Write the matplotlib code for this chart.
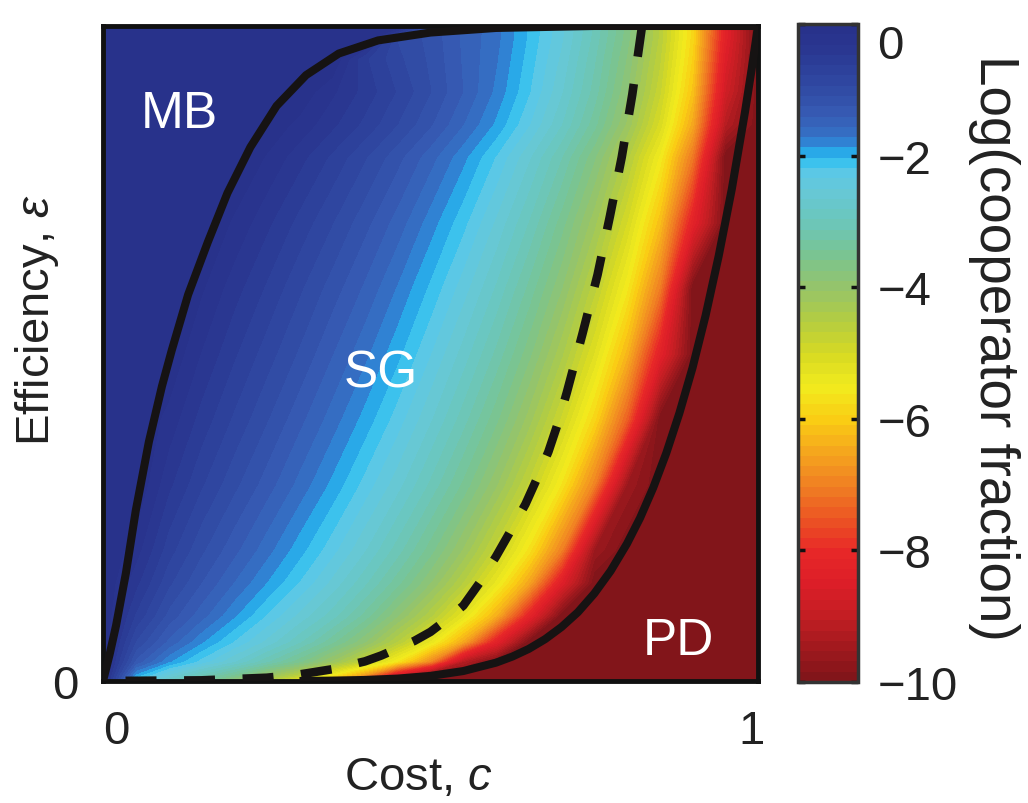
import numpy as np
import matplotlib
matplotlib.use("Agg")
import matplotlib.pyplot as plt
from matplotlib.colors import LinearSegmentedColormap
from matplotlib.transforms import ScaledTranslation

plt.rcParams['font.family'] = ['Liberation Sans', 'DejaVu Sans']
plt.rcParams['mathtext.fontset'] = 'custom'
plt.rcParams['mathtext.rm'] = 'Liberation Sans'
plt.rcParams['mathtext.it'] = 'Liberation Sans:italic'

# ---------------------------------------------------------------------------
# Log10 cooperator fraction on a (cost, efficiency) grid
# ---------------------------------------------------------------------------
cost_grid = [0.00, 0.05, 0.10, 0.15, 0.20, 0.25, 0.30, 0.35, 0.40, 0.45, 0.50,
             0.55, 0.60, 0.65, 0.70, 0.75, 0.80, 0.85, 0.90, 0.95, 1.00]
eff_grid = [0.00, 0.01, 0.03, 0.06, 0.10, 0.15, 0.20, 0.30, 0.40, 0.50,
            0.60, 0.70, 0.80, 0.85, 0.90, 0.95, 0.98, 1.00]

row_e000 = [0, -2.3, -2.9, -3.4, -4.0, -4.6, -5.5, -6.6, -8.6, -10, -10,
            -10, -10, -10, -10, -10, -10, -10, -10, -10, -10]
row_e001 = [0, -1.9, -2.5, -3.0, -3.45, -4.0, -4.6, -5.5, -6.6, -8.6, -10,
            -10, -10, -10, -10, -10, -10, -10, -10, -10, -10]
row_e003 = [0, -1.3, -1.85, -2.25, -2.65, -3.1, -3.55, -4.1, -4.8, -5.65, -6.9,
            -9.2, -10, -10, -10, -10, -10, -10, -10, -10, -10]
row_e006 = [0, -0.95, -1.45, -1.85, -2.2, -2.55, -2.95, -3.4, -3.9, -4.55, -5.35,
            -6.5, -8.3, -10, -10, -10, -10, -10, -10, -10, -10]
row_e010 = [0, -0.65, -1.15, -1.5, -1.85, -2.2, -2.55, -2.9, -3.35, -3.9, -4.5,
            -5.3, -6.4, -8.2, -10, -10, -10, -10, -10, -10, -10]
row_e015 = [0, -0.42, -0.9, -1.25, -1.57, -1.88, -2.2, -2.55, -2.94, -3.39, -3.91,
            -4.55, -5.37, -6.53, -8.46, -10, -10, -10, -10, -10, -10]
row_e020 = [0, -0.24, -0.71, -1.06, -1.36, -1.66, -1.97, -2.29, -2.65, -3.06, -3.53,
            -4.09, -4.78, -5.69, -7.02, -9.56, -10, -10, -10, -10, -10]
row_e030 = [0, 0, -0.43, -0.76, -1.05, -1.33, -1.62, -1.92, -2.25, -2.6, -3.01,
            -3.48, -4.04, -4.73, -5.65, -6.99, -9.57, -10, -10, -10, -10]
row_e040 = [0, 0, -0.21, -0.53, -0.81, -1.08, -1.36, -1.64, -1.94, -2.27, -2.64,
            -3.06, -3.55, -4.14, -4.88, -5.88, -7.41, -10, -10, -10, -10]
row_e050 = [0, 0, -0.01, -0.32, -0.6, -0.86, -1.12, -1.4, -1.68, -1.99, -2.34,
            -2.73, -3.17, -3.7, -4.34, -5.17, -6.33, -8.3, -10, -10, -10]
row_e060 = [0, 0, 0, -0.13, -0.4, -0.65, -0.91, -1.17, -1.44, -1.74, -2.07,
            -2.43, -2.84, -3.33, -3.9, -4.63, -5.59, -7.06, -10, -10, -10]
row_e070 = [0, 0, 0, 0, -0.18, -0.43, -0.68, -0.93, -1.2, -1.48, -1.8,
            -2.14, -2.53, -2.98, -3.52, -4.17, -5.01, -6.21, -8.27, -10, -10]
row_e080 = [0, 0, 0, 0, 0, -0.17, -0.41, -0.66, -0.92, -1.2, -1.5,
            -1.83, -2.2, -2.63, -3.12, -3.72, -4.48, -5.51, -7.12, -10, -10]
row_e085 = [0, 0, 0, 0, 0, -0.05, -0.2, -0.43, -0.67, -0.94, -1.23,
            -1.56, -1.91, -2.33, -2.81, -3.38, -4.1, -5.06, -6.5, -9.2, -10]
row_e090 = [0, 0, 0, 0, 0, 0, -0.04, -0.28, -0.53, -0.8, -1.09,
            -1.41, -1.76, -2.17, -2.64, -3.2, -3.9, -4.81, -6.16, -8.77, -10]
row_e095 = [0, 0, 0, 0, 0, 0, 0, 0, -0.6, -0.9, -1.13,
            -1.43, -1.70, -2.10, -2.54, -3.1, -3.77, -4.66, -5.97, -8.5, -10]
row_e098 = [0, 0, 0, 0, 0, 0, 0, 0, 0, -0.95, -1.15,
            -1.44, -1.67, -2.06, -2.48, -3.03, -3.69, -4.58, -5.88, -8.35, -10]
row_e100 = [0, 0, 0, 0, 0, 0, 0, 0, 0, 0, -1.16,
            -1.45, -1.65, -2.05, -2.45, -3.0, -3.65, -4.55, -5.85, -8.3, -10]

# Phase boundaries (cost, efficiency)
mb_cost = [0.000, 0.005, 0.010, 0.020, 0.035, 0.050, 0.070, 0.090, 0.105, 0.130,
           0.160, 0.190, 0.225, 0.265, 0.310, 0.360, 0.420, 0.500, 0.600, 0.750,
           1.000]
mb_eff = [0.000, 0.020, 0.040, 0.085, 0.165, 0.260, 0.365, 0.450, 0.505, 0.590,
          0.670, 0.745, 0.815, 0.878, 0.925, 0.958, 0.978, 0.990, 0.997, 1.000,
          1.000]

pd_cost = [0.300, 0.350, 0.400, 0.450, 0.500, 0.550, 0.600, 0.625, 0.650, 0.675,
           0.700, 0.725, 0.750, 0.775, 0.800, 0.820, 0.840, 0.860, 0.880, 0.900,
           0.920, 0.940, 0.960, 0.980, 0.990, 1.000]
pd_eff = [0.000, 0.0006, 0.0016, 0.0037, 0.0078, 0.0152, 0.0280, 0.0373, 0.0490,
          0.0639, 0.0824, 0.1050, 0.1335, 0.1680, 0.2097, 0.2490, 0.2950, 0.3480,
          0.4090, 0.4780, 0.5580, 0.6490, 0.7510, 0.8680, 0.9320, 1.000]

dash_cost = [0.000, 0.150, 0.250, 0.300, 0.350, 0.400, 0.425, 0.450, 0.475, 0.500,
             0.525, 0.550, 0.575, 0.600, 0.620, 0.645, 0.663, 0.680, 0.695, 0.708,
             0.720, 0.732, 0.755, 0.774, 0.792, 0.808, 0.823]
dash_eff = [0.000, 0.001, 0.005, 0.010, 0.018, 0.030, 0.039, 0.050, 0.061, 0.075,
            0.094, 0.115, 0.150, 0.190, 0.225, 0.270, 0.310, 0.350, 0.395, 0.440,
            0.485, 0.530, 0.620, 0.710, 0.800, 0.895, 1.000]

region_labels = ['MB', 'SG', 'PD']
region_cost = [0.116, 0.424, 0.879]
region_eff = [0.846, 0.449, 0.041]

cbar_ticks = [0, -2, -4, -6, -8, -10]

# ---------------------------------------------------------------------------
# Colour map (dark red at -10 through yellow and cyan to navy at 0)
# ---------------------------------------------------------------------------
cmap_values = [-10, -9.5, -9.0, -8.5, -8.0, -7.5, -7.0, -6.5, -6.0, -5.5, -5.0,
               -4.5, -4.0, -3.5, -3.0, -2.5, -2.2, -2.0, -1.85, -1.7, -1.4,
               -0.9, -0.4, 0.0]
cmap_rgb = [(125, 20, 25), (160, 25, 30), (195, 30, 35), (220, 30, 40),
            (232, 40, 40), (236, 85, 35), (240, 128, 35), (245, 165, 30),
            (250, 205, 20), (242, 235, 30), (215, 218, 35), (180, 205, 65),
            (150, 196, 105), (122, 196, 145), (108, 198, 185), (102, 200, 215),
            (90, 200, 232), (40, 190, 240), (42, 150, 225), (52, 115, 200),
            (55, 94, 182), (48, 72, 162), (42, 56, 146), (40, 49, 138)]
cmap = LinearSegmentedColormap.from_list(
    'coop', [((v + 10) / 10, tuple(ch / 255 for ch in rgb))
             for v, rgb in zip(cmap_values, cmap_rgb)], N=256)

# ---------------------------------------------------------------------------
fig = plt.figure(figsize=(10.28, 8.04), dpi=100)
W, H = 1028, 804
ax = fig.add_axes([103 / W, 1 - 682 / H, 655 / W, 655 / H])
cax = fig.add_axes([798 / W, 1 - 683 / H, 60 / W, 658 / H])

log_frac = np.array([row_e000, row_e001, row_e003, row_e006, row_e010, row_e015,
                     row_e020, row_e030, row_e040, row_e050, row_e060, row_e070,
                     row_e080, row_e085, row_e090, row_e095, row_e098, row_e100])
C, E = np.meshgrid(cost_grid, eff_grid)
levels = np.linspace(-10, 0, 65)
cs = ax.contourf(C, E, log_frac, levels=levels, cmap=cmap, vmin=-10, vmax=0,
                 antialiased=False)

line_col = '#161313'
ax.plot(mb_cost, mb_eff, color=line_col, lw=5.8, solid_capstyle='butt',
        solid_joinstyle='round', zorder=3)
ax.plot(pd_cost, pd_eff, color=line_col, lw=5.8, solid_capstyle='butt',
        solid_joinstyle='round', zorder=3)
ax.plot(dash_cost[::-1], dash_eff[::-1], color=line_col, lw=6.2,
        linestyle=(0, (3.6, 3.2)), dash_capstyle='butt', zorder=3)

for lab, xc, ye in zip(region_labels, region_cost, region_eff):
    ax.text(xc, ye, lab, color='white', fontsize=37, ha='center', va='baseline',
            zorder=4)

ax.set_xlim(0, 1)
ax.set_ylim(0, 1)
ax.set_xticks([0, 1])
ax.set_xticklabels(['0', '1'])
ax.set_yticks([0])
ax.set_yticklabels(['0'])
ax.tick_params(axis='both', length=0, labelsize=34, labelcolor='#222222')
ax.tick_params(axis='x', pad=20)
ax.tick_params(axis='y', pad=18)
xt_shift = [13, -6]
for lab, dx in zip(ax.get_xticklabels(), xt_shift):
    lab.set_transform(lab.get_transform() +
                      ScaledTranslation(dx / 100, 0, fig.dpi_scale_trans))
for sp in ax.spines.values():
    sp.set_linewidth(3.5)
    sp.set_color('#111111')

fig.text(418 / W, 1 - 790 / H, 'Cost, $c$', fontsize=34, ha='center',
         va='baseline', color='#222222')
fig.text(37 / W, 1 - 320 / H, 'Efficiency, $\\varepsilon$', fontsize=34,
         ha='center', va='center', rotation=90, color='#222222')

cb = fig.colorbar(cs, cax=cax, ticks=cbar_ticks)
cb.outline.set_linewidth(2.5)
cb.outline.set_edgecolor('#333333')
cax.tick_params(axis='y', direction='in', length=5, width=2.5, left=True,
                right=True, labelleft=False, labelright=True, labelsize=34,
                pad=14, colors='#111111')
for t in cax.get_yticklabels():
    t.set_color('#222222')
    if t.get_text().strip() == '0':
        t.set_verticalalignment('top')
fig.text(994 / W, 1 - 348 / H, 'Log(cooperator fraction)', fontsize=39.5,
         ha='center', va='center', rotation=270, color='#222222')

fig.savefig('out.png', dpi=100)
